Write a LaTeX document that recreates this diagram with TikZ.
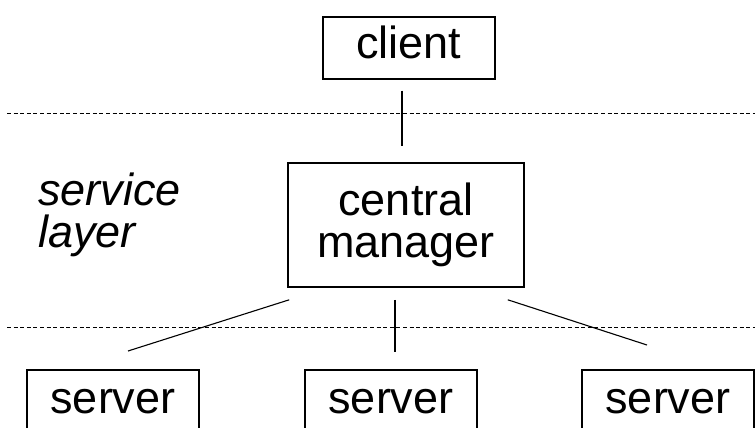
\documentclass[tikz,border=0pt]{standalone}
\usepackage{fontspec}
\setmainfont{Liberation Sans}
\usetikzlibrary{calc}
\begin{document}
\begin{tikzpicture}[x=1pt,y=-1pt,
  every node/.style={font=\fontsize{45}{42}\selectfont},
  box/.style={draw,line width=1.6pt,inner xsep=0pt,inner ysep=0pt,minimum width=172pt},
  link/.style={line width=1.1pt},
  layerline/.style={line width=0.9pt,dash pattern=on 4pt off 2.6pt}]
  \useasboundingbox (0,0) rectangle (755,428);
  \clip (0,0) rectangle (755,428);

  % layer boundaries
  \draw[layerline] (7,113) -- (755,113);
  \draw[layerline] (7,327) -- (755,327);

  % nodes
  \node[box,anchor=north,text height=42pt,text depth=20pt] (client) at (409,16) {client};
  \node[box,minimum width=236pt,minimum height=124pt,align=center] (central) at (406,225) {central\\manager};
  \node[anchor=north west,align=left,inner sep=0pt,font=\fontsize{45}{42}\selectfont\itshape] (layer) at (38,173) {service\\layer};
  \node[box,anchor=north,text height=44pt,text depth=32pt] (s1) at (113,369) {server};
  \node[box,anchor=north,text height=44pt,text depth=32pt] (s2) at (391,369) {server};
  \node[box,anchor=north,text height=44pt,text depth=32pt] (s3) at (668,369) {server};

  % connectors
  \draw[link] ($(client.south)+(-7,11)$) -- ($(central.north)+(-4,-16)$);
  \draw[link] ($(central.south west)+(2,12)$) -- ($(s1.north)+(15,-18)$);
  \draw[link] ($(central.south)+(-11,12)$) -- ($(s2.north)+(4,-17)$);
  \draw[link] ($(central.south east)+(-17,12)$) -- ($(s3.north)+(-21,-24)$);
\end{tikzpicture}
\end{document}
